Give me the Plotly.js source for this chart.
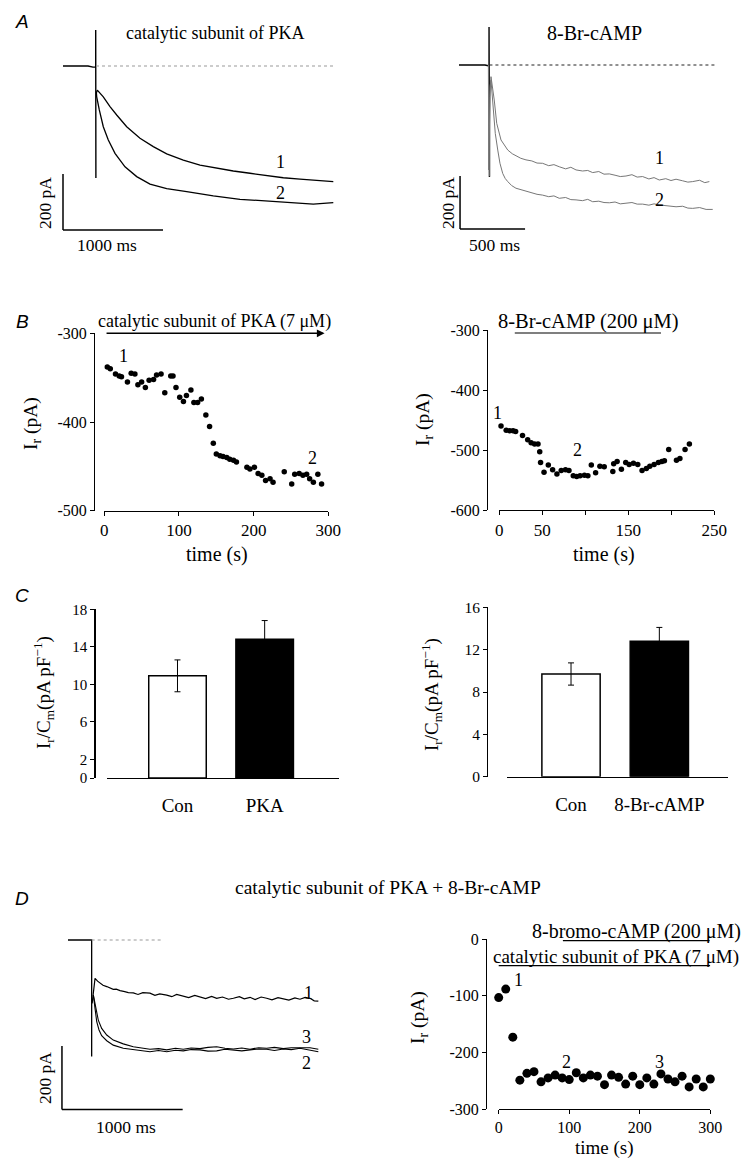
<!DOCTYPE html>
<html><head><meta charset="utf-8">
<script src="https://cdn.plot.ly/plotly-3.0.1.min.js"></script>
<style>html,body{margin:0;padding:0;background:#fff}</style>
</head><body><div id="chart" style="width:753px;height:1163px"></div>
<script>
// ================= DATA =================
// Panel A (left): catalytic subunit of PKA, current traces (time ms, current pA)
const aPkaBaseT = [0, 250, 300, 327, 327, 329];
const aPkaBaseI = [0, 0, -4, -4, 129, -400];
const aPkaZeroT = [330, 2700];
const aPkaZeroI = [0, 0];
const aPkaT1 = [335, 343, 403, 470, 537, 637, 770, 903, 1037, 1203, 1370, 1537, 1703, 1870, 2037, 2203, 2370, 2537, 2703];
const aPkaI1 = [-95, -86, -110, -145, -175, -217, -258, -288, -314, -336, -354, -365, -375, -383, -391, -399, -404, -408, -413];
const aPkaT2 = [333, 337, 363, 403, 453, 520, 620, 737, 870, 1037, 1237, 1503, 1770, 2037, 2303, 2503, 2703];
const aPkaI2 = [-92, -110, -157, -217, -264, -312, -360, -395, -422, -438, -449, -464, -476, -482, -487, -493, -488];

// Panel A (right): 8-Br-cAMP
const aBrBaseT = [0, 200, 225, 231, 231, 234];
const aBrBaseI = [0, 0, -3, -3, 143, -423];
const aBrZeroT = [234, 1977];
const aBrZeroI = [0, 0];
const aBrT1 = [226, 229, 238, 246, 271, 290, 323, 350, 375, 410, 438, 475, 515, 560, 600, 643, 690, 730, 771, 820, 860, 900, 950, 990, 1028, 1075, 1115, 1156, 1200, 1240, 1284, 1330, 1370, 1412, 1460, 1500, 1540, 1590, 1630, 1669, 1720, 1760, 1797, 1850, 1890, 1925];
const aBrI1 = [0, -396, -120, -44, -132, -220, -283, -305, -321, -335, -343, -352, -358, -362, -370, -371, -380, -376, -384, -392, -386, -396, -400, -398, -406, -402, -412, -411, -416, -421, -419, -414, -423, -421, -430, -425, -434, -429, -436, -431, -437, -442, -440, -435, -444, -440];
const aBrT2 = [236, 239, 246, 264, 279, 298, 315, 336, 355, 375, 405, 438, 475, 515, 560, 600, 643, 690, 730, 771, 820, 860, 900, 950, 990, 1028, 1075, 1115, 1156, 1200, 1240, 1284, 1330, 1370, 1412, 1460, 1500, 1540, 1590, 1630, 1669, 1720, 1760, 1797, 1850, 1900, 1951];
const aBrI2 = [-420, -80, -57, -170, -258, -321, -371, -409, -428, -440, -455, -465, -470, -478, -483, -488, -491, -497, -494, -503, -500, -508, -509, -512, -507, -516, -514, -519, -520, -517, -524, -522, -519, -525, -525, -529, -524, -528, -531, -535, -535, -533, -540, -541, -538, -545, -545];

// Panel B (left): time course with catalytic subunit of PKA (time s, current pA)
const bPkaT = [4, 8, 15, 20, 23, 31, 36, 41, 45, 50, 55, 60, 66, 70, 76, 81, 89, 92, 96, 101, 106, 110, 116, 120, 125, 130, 136, 141, 146, 150, 155, 159, 164, 168, 173, 177, 191, 195, 201, 206, 211, 216, 222, 226, 241, 251, 255, 261, 266, 271, 275, 280, 286, 291];
const bPkaI = [-338, -340, -346, -348, -349, -355, -345, -346, -358, -355, -361, -353, -352, -347, -346, -367, -348, -348, -361, -372, -377, -370, -364, -378, -378, -374, -392, -405, -424, -436, -438, -439, -440, -442, -443, -445, -451, -453, -451, -458, -460, -466, -464, -468, -456, -470, -459, -458, -460, -459, -464, -468, -459, -470];
const bPkaApplied = [1, 295];
const bPkaYTicks = [-500, -400, -300];
const bPkaYText = ['-500', '-400', '-300'];
const bPkaXTicks = [0, 100, 200, 300];
const bPkaXText = ['0', '100', '200', '300'];

// Panel B (right): time course with 8-Br-cAMP
const bBrT = [-1, 2, 8, 12, 16, 19, 27, 33, 37, 41, 45, 47, 48, 52, 57, 62, 67, 72, 77, 81, 86, 90, 94, 99, 103, 107, 112, 117, 122, 132, 133, 137, 142, 147, 151, 156, 161, 166, 171, 175, 180, 185, 189, 192, 197, 206, 210, 216, 221];
const bBrI = [-457, -460, -467, -468, -468, -469, -476, -483, -488, -490, -490, -503, -521, -537, -525, -533, -540, -534, -533, -534, -543, -544, -543, -542, -543, -525, -538, -527, -528, -536, -523, -519, -532, -521, -524, -522, -524, -534, -531, -527, -524, -521, -519, -518, -499, -517, -514, -499, -490];
const bBrApplied = [18, 188];
const bBrYTicks = [-600, -500, -400, -300];
const bBrYText = ['-600', '-500', '-400', '-300'];
const bBrXTicks = [0, 50, 100, 150, 200, 250];
const bBrXText = ['0', '50', '', '150', '', '250'];

// Panel C: current density (pA/pF)
const cPkaCats = ['Con', 'PKA'];
const cPkaVals = [10.9, 14.8];
const cPkaErr = [1.7, 2.0];
const cPkaYTicks = [0, 2, 6, 10, 14, 18];
const cBrCats = ['Con', '8-Br-cAMP'];
const cBrVals = [9.7, 12.8];
const cBrErr = [1.05, 1.3];
const cBrYTicks = [0, 4, 8, 12, 16];

// Panel D (left): traces 1, 2, 3
const dBaseT = [0, 196, 196];
const dBaseI = [0, 0, -368];
const dZeroT = [196, 787];
const dZeroI = [0, 0];
const dT1 = [200, 224, 245, 265, 290, 321, 350, 375, 400, 431, 470, 500, 541, 580, 620, 679, 720, 760, 818, 860, 900, 955, 1000, 1050, 1094, 1140, 1190, 1232, 1280, 1330, 1370, 1420, 1460, 1508, 1550, 1600, 1646, 1690, 1740, 1784, 1830, 1880, 1922, 1965, 2005, 2040, 2074];
const dI1 = [-200, -121, -130, -137, -143, -147, -152, -156, -155, -160, -163, -166, -167, -172, -166, -168, -175, -170, -174, -179, -172, -177, -182, -175, -179, -185, -178, -184, -180, -187, -184, -179, -186, -181, -188, -180, -184, -189, -182, -186, -190, -183, -187, -181, -184, -192, -193];
const dT2 = [210, 224, 238, 257, 279, 321, 375, 458, 541, 610, 679, 750, 818, 890, 955, 1020, 1094, 1160, 1232, 1300, 1370, 1440, 1508, 1580, 1646, 1710, 1784, 1850, 1922, 1965, 2005, 2040, 2074];
const dI2 = [-174, -221, -258, -284, -302, -318, -332, -342, -347, -350, -353, -349, -353, -348, -350, -346, -347, -351, -350, -345, -347, -350, -347, -344, -345, -349, -344, -346, -342, -345, -347, -350, -353];
const dT3 = [210, 230, 251, 279, 321, 375, 458, 541, 610, 679, 750, 818, 890, 955, 1020, 1094, 1160, 1232, 1300, 1370, 1440, 1508, 1580, 1646, 1710, 1784, 1850, 1922, 2005, 2074];
const dI3 = [-174, -216, -253, -279, -300, -316, -328, -337, -342, -345, -343, -347, -342, -345, -341, -343, -339, -337, -342, -344, -341, -345, -340, -342, -339, -343, -340, -339, -340, -345];

// Panel D (right): time course, PKA + 8-bromo-cAMP
const dCourseT = [0, 10, 20, 30, 40, 50, 60, 70, 80, 90, 100, 110, 120, 130, 140, 150, 160, 170, 180, 190, 200, 210, 220, 230, 240, 250, 260, 270, 280, 290, 300];
const dCourseI = [-103, -88, -173, -249, -237, -234, -252, -245, -240, -245, -248, -236, -245, -240, -242, -257, -240, -244, -256, -242, -257, -245, -256, -238, -247, -252, -242, -261, -247, -261, -247];
const dPkaApplied = [-1, 300];
const dBrApplied = [91, 299];
const dYTicks = [-300, -200, -100, 0];
const dYText = ['-300', '-200', '-100', '0'];
const dXTicks = [0, 100, 200, 300];
const dXText = ['0', '100', '200', '300'];

// ================= LAYOUT HELPERS =================
const W = 753, H = 1163;
const X = v => v / W;
const Y = v => 1 - v / H;
const dx = (a, b) => [a / W, b / W];
const dy = (a, b) => [1 - b / H, 1 - a / H];
const SERIF = 'Liberation Serif, Times New Roman, serif';
const SANS = 'Liberation Sans, Arial, sans-serif';

const traces = [];
function lineTrace(ax, t, i, color, width, dash) {
  traces.push({type: 'scatter', mode: 'lines', x: t, y: i, xaxis: 'x' + ax, yaxis: 'y' + ax,
    line: {color: color, width: width, dash: dash || 'solid'}, hoverinfo: 'skip', cliponaxis: false});
}
function dotTrace(ax, t, i, size) {
  traces.push({type: 'scatter', mode: 'markers', x: t, y: i, xaxis: 'x' + ax, yaxis: 'y' + ax,
    marker: {color: '#000', size: size}, hoverinfo: 'skip', cliponaxis: false});
}
function barTrace(ax, cats, vals, errs) {
  traces.push({type: 'bar', x: cats, y: vals, xaxis: 'x' + ax, yaxis: 'y' + ax, width: 0.66,
    marker: {color: ['#fff', '#000'], line: {color: '#000', width: 1.5}},
    error_y: {type: 'data', array: errs, visible: true, color: '#000', thickness: 1, width: 3},
    hoverinfo: 'skip'});
}

// A left
lineTrace('', aPkaBaseT, aPkaBaseI, '#000', 1.4);
lineTrace('', aPkaZeroT, aPkaZeroI, '#999', 1, 'dot');
lineTrace('', aPkaT1, aPkaI1, '#000', 1.3);
lineTrace('', aPkaT2, aPkaI2, '#000', 1.3);
// A right
lineTrace('2', aBrBaseT, aBrBaseI, '#000', 1.4);
lineTrace('2', aBrZeroT, aBrZeroI, '#222', 1, 'dot');
lineTrace('2', aBrT1, aBrI1, '#777', 1);
lineTrace('2', aBrT2, aBrI2, '#777', 1);
// B
dotTrace('3', bPkaT, bPkaI, 5.5);
dotTrace('4', bBrT, bBrI, 5.5);
// C
barTrace('5', cPkaCats, cPkaVals, cPkaErr);
barTrace('6', cBrCats, cBrVals, cBrErr);
// D left
lineTrace('7', dBaseT, dBaseI, '#000', 1.3);
lineTrace('7', dZeroT, dZeroI, '#999', 1, 'dot');
lineTrace('7', dT1, dI1, '#000', 1.2);
lineTrace('7', dT3, dI3, '#000', 1.1);
lineTrace('7', dT2, dI2, '#000', 1.1);
// D right
dotTrace('8', dCourseT, dCourseI, 9);

function hiddenX(dom, rng, anchor) { return {domain: dom, range: rng, visible: false, anchor: anchor, fixedrange: true}; }
function hiddenY(dom, rng, anchor) { return {domain: dom, range: rng, visible: false, anchor: anchor, fixedrange: true}; }
function realY(dom, rng, posPx, vals, text, fsize) {
  return {domain: dom, range: rng, anchor: 'free', position: X(posPx), showline: true, linecolor: '#000', linewidth: 1.2,
    ticks: 'outside', ticklen: 4, tickcolor: '#000', tickwidth: 1, tickvals: vals, ticktext: text,
    tickfont: {family: SERIF, size: fsize || 16, color: '#000'}, showgrid: false, zeroline: false, fixedrange: true};
}
function realX(dom, rng, anchor, vals, text, fsize) {
  return {domain: dom, range: rng, anchor: anchor, showline: true, linecolor: '#000', linewidth: 1.2,
    ticks: 'outside', ticklen: 4, tickcolor: '#000', tickwidth: 1, tickvals: vals, ticktext: text,
    tickfont: {family: SERIF, size: fsize || 17, color: '#000'}, showgrid: false, zeroline: false, fixedrange: true};
}
function catX(dom, rng, anchor) {
  return {domain: dom, range: rng, anchor: anchor, type: 'category', showline: true, linecolor: '#000', linewidth: 1.2,
    ticks: '', tickfont: {family: SERIF, size: 19, color: '#000'}, ticklabelstandoff: 10,
    showgrid: false, zeroline: false, fixedrange: true};
}

const ann = [];
function txt(s, xpx, ypx, size, opts) {
  ann.push(Object.assign({text: s, x: X(xpx), y: Y(ypx), xref: 'paper', yref: 'paper', showarrow: false,
    xanchor: 'center', yanchor: 'middle', font: {family: SERIF, size: size || 18, color: '#000'}}, opts || {}));
}
function letter(s, xpx, ypx) {
  txt('<i>' + s + '</i>', xpx, ypx, 19, {font: {family: SANS, size: 19, color: '#000'}});
}
// Panel letters
letter('A', 22, 22); letter('B', 22, 322); letter('C', 22, 595); letter('D', 22, 898);
// A
txt('catalytic subunit of PKA', 215, 33, 18);
txt('8-Br-cAMP', 594, 33, 20);
txt('1', 280, 162, 18); txt('2', 280, 193, 18);
txt('1', 659, 158, 18); txt('2', 659, 200, 18);
txt('200 pA', 45, 203, 17.5, {textangle: -90});
txt('1000 ms', 107, 245, 17.5);
txt('200 pA', 448, 203, 17.5, {textangle: -90});
txt('500 ms', 494, 245, 17.5);
// B
txt('catalytic subunit of PKA (7 μM)', 214, 322, 18);
txt('8-Br-cAMP (200 μM)', 588, 322, 20.5);
txt('1', 123, 356, 18); txt('2', 312, 458, 18);
txt('1', 497, 413, 18); txt('2', 577, 450, 18);
txt('I<sub>r</sub> (pA)', 32, 423, 19.5, {textangle: -90});
txt('I<sub>r</sub> (pA)', 424, 420, 19.5, {textangle: -90});
txt('time (s)', 217, 555, 20);
txt('time (s)', 604, 555, 20);
// C
txt('I<sub>r</sub>/C<sub>m</sub>(pA pF<sup>−1</sup>)', 43, 693, 19, {textangle: -90});
txt('I<sub>r</sub>/C<sub>m</sub>(pA pF<sup>−1</sup>)', 431, 695, 19, {textangle: -90});
// D
txt('catalytic subunit of PKA + 8-Br-cAMP', 388, 887, 19.5);
txt('1', 308, 993, 18); txt('3', 306, 1037, 18); txt('2', 306, 1063, 18);
txt('200 pA', 45, 1078, 17.5, {textangle: -90});
txt('1000 ms', 126, 1127, 17.5);
txt('8-bromo-cAMP (200 μM)', 636, 931, 20);
txt('catalytic subunit of PKA (7 μM)', 616, 957, 19);
txt('1', 518, 980, 18); txt('2', 566, 1062, 18); txt('3', 659, 1062, 18);
txt('I<sub>r</sub> (pA)', 419, 1017, 19.5, {textangle: -90});
txt('time (s)', 604, 1148, 19);
// B left application arrow
ann.push({xref: 'x3', yref: 'paper', axref: 'x3', ayref: 'paper', x: bPkaApplied[1], y: Y(333.3),
  ax: bPkaApplied[0], ay: Y(333.3), showarrow: true, arrowhead: 2, arrowsize: 1.1, arrowwidth: 1.4,
  arrowcolor: '#000', text: ''});

const shapes = [];
function seg(xr, yr, x0, y0, x1, y1, w) {
  shapes.push({type: 'line', xref: xr, yref: yr, x0: x0, y0: y0, x1: x1, y1: y1, line: {color: '#000', width: w || 1.5}});
}
// scale bars (data units)
seg('x', 'y', 0, -386, 0, -586); seg('x', 'y', 0, -586, 1000, -586);
seg('x2', 'y2', 8, -419, 8, -619); seg('x2', 'y2', 8, -619, 508, -619);
seg('x7', 'y7', -50, -335, -50, -535); seg('x7', 'y7', -50, -535, 950, -535);
// application bars
seg('x4', 'paper', bBrApplied[0], Y(333), bBrApplied[1], Y(333), 1.2);
seg('x8', 'paper', dBrApplied[0], Y(940.7), dBrApplied[1], Y(940.7), 1.3);
seg('x8', 'paper', dPkaApplied[0], Y(965.7), dPkaApplied[1], Y(965.7), 1.3);

const layout = {
  width: W, height: H, margin: {l: 0, r: 0, t: 0, b: 0}, showlegend: false,
  paper_bgcolor: '#fff', plot_bgcolor: 'rgba(0,0,0,0)', bargap: 0,
  xaxis: hiddenX(dx(55, 340), [-80, 2770], 'y'),
  yaxis: hiddenY(dy(20, 240), [-621.4, 164.3], 'x'),
  xaxis2: hiddenX(dx(450, 725), [-69.2, 2045.5], 'y2'),
  yaxis2: hiddenY(dy(20, 240), [-660.4, 169.8], 'x2'),
  xaxis3: realX(dx(104.3, 328.3), [0, 300], 'y3', bPkaXTicks, bPkaXText, 17),
  yaxis3: realY(dy(333.3, 510.7), [-500, -300], 94, bPkaYTicks, bPkaYText, 16),
  xaxis4: realX(dx(499.3, 714.3), [0, 250], 'y4', bBrXTicks, bBrXText, 17),
  yaxis4: realY(dy(330, 510), [-600, -300], 487, bBrYTicks, bBrYText, 16),
  xaxis5: catX(dx(106.7, 339.3), [-0.812, 1.856], 'y5'),
  yaxis5: realY(dy(609.3, 778), [0, 18], 94.3, cPkaYTicks, cPkaYTicks.map(String), 15),
  xaxis6: catX(dx(507, 728.3), [-0.725, 1.781], 'y6'),
  yaxis6: realY(dy(607.3, 776.7), [0, 16], 487, cBrYTicks, cBrYTicks.map(String), 15.5),
  xaxis7: hiddenX(dx(55, 330), [-107.7, 2170.7], 'y7'),
  yaxis7: hiddenY(dy(930, 1115), [-552.6, 31.6], 'x7'),
  xaxis8: realX(dx(498.7, 710.3), [0, 300], 'y8', dXTicks, dXText, 16),
  yaxis8: realY(dy(939.3, 1109), [-300, 0], 486, dYTicks, dYText, 16),
  annotations: ann, shapes: shapes
};

Plotly.newPlot('chart', traces, layout, {staticPlot: true, displayModeBar: false});
</script></body></html>
